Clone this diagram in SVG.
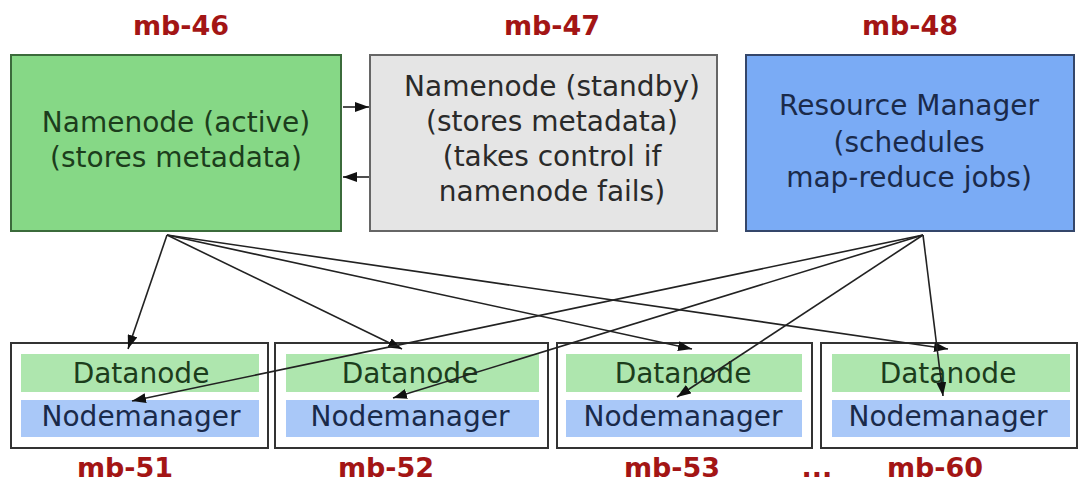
<svg xmlns="http://www.w3.org/2000/svg" width="1080" height="484" viewBox="0 0 1080 484">
<style>
text{font-family:"DejaVu Sans","Liberation Sans",sans-serif;text-anchor:middle}
.lbl{font-weight:bold;font-size:27px;fill:#a31515}
.big{font-size:28px}
.sm{font-size:28px}
.edge{stroke:#222;stroke-width:1.6;fill:none;marker-end:url(#ah)}
.host{fill:#fff;stroke:#333;stroke-width:2}
.dn{fill:#aee6ae}
.nm{fill:#a9c8f8}
</style>
<defs>
<marker id="ah" viewBox="0 0 14 10" refX="14" refY="5" markerWidth="14" markerHeight="10" markerUnits="userSpaceOnUse" orient="auto">
<path d="M0,0 L14,5 L0,10 z" fill="#111"/>
</marker>
</defs>
<rect width="1080" height="484" fill="#fff"/>
<g id="mb46">
<text class="lbl" x="181" y="35">mb-46</text>
<rect x="11" y="55" width="330" height="176" fill="#86d886" stroke="#3b6b3b" stroke-width="2"/>
<text class="big" x="176" y="132" fill="#1c3d1c">Namenode (active)</text>
<text class="big" x="176" y="167" fill="#1c3d1c">(stores metadata)</text>
</g>
<g id="mb47">
<text class="lbl" x="552" y="35">mb-47</text>
<rect x="370" y="55" width="347" height="176" fill="#e5e5e5" stroke="#666" stroke-width="2"/>
<text class="big" x="552" y="96" fill="#2a2a2a">Namenode (standby)</text>
<text class="big" x="552" y="131" fill="#2a2a2a">(stores metadata)</text>
<text class="big" x="552" y="166" fill="#2a2a2a">(takes control if</text>
<text class="big" x="552" y="201" fill="#2a2a2a">namenode fails)</text>
</g>
<g id="mb48">
<text class="lbl" x="910" y="35">mb-48</text>
<rect x="746" y="55" width="328" height="176" fill="#7aabf5" stroke="#34466a" stroke-width="2"/>
<text class="big" x="909" y="115" fill="#1a2a4a">Resource Manager</text>
<text class="big" x="909" y="152" fill="#1a2a4a">(schedules</text>
<text class="big" x="909" y="187" fill="#1a2a4a">map-reduce jobs)</text>
</g>
<g id="mb51">
<rect class="host" x="11" y="343" width="257" height="105"/>
<rect class="dn" x="21" y="354" width="238" height="38"/>
<rect class="nm" x="21" y="400" width="238" height="37"/>
<text class="sm" x="141" y="383" fill="#1c3d1c">Datanode</text>
<text class="sm" x="141" y="426" fill="#1a2a4a">Nodemanager</text>
<text class="lbl" x="125" y="477">mb-51</text>
</g>
<g id="mb52">
<rect class="host" x="275" y="343" width="273" height="105"/>
<rect class="dn" x="286" y="354" width="253" height="38"/>
<rect class="nm" x="286" y="400" width="253" height="37"/>
<text class="sm" x="410" y="383" fill="#1c3d1c">Datanode</text>
<text class="sm" x="410" y="426" fill="#1a2a4a">Nodemanager</text>
<text class="lbl" x="386" y="477">mb-52</text>
</g>
<g id="mb53">
<rect class="host" x="557" y="343" width="255" height="105"/>
<rect class="dn" x="566" y="354" width="236" height="38"/>
<rect class="nm" x="566" y="400" width="236" height="37"/>
<text class="sm" x="683" y="383" fill="#1c3d1c">Datanode</text>
<text class="sm" x="683" y="426" fill="#1a2a4a">Nodemanager</text>
<text class="lbl" x="672" y="477">mb-53</text>
</g>
<g id="ellipsis">
<text class="lbl" x="817" y="477">...</text>
</g>
<g id="mb60">
<rect class="host" x="821" y="343" width="256" height="105"/>
<rect class="dn" x="832" y="354" width="238" height="38"/>
<rect class="nm" x="832" y="400" width="238" height="37"/>
<text class="sm" x="948" y="383" fill="#1c3d1c">Datanode</text>
<text class="sm" x="948" y="426" fill="#1a2a4a">Nodemanager</text>
<text class="lbl" x="935" y="477">mb-60</text>
</g>
<g id="connectors">
<line class="edge" x1="343" y1="107" x2="369" y2="107"/>
<line class="edge" x1="369" y1="177" x2="343" y2="177"/>
<line class="edge" x1="167" y1="235" x2="128" y2="349"/>
<line class="edge" x1="167" y1="235" x2="402" y2="349"/>
<line class="edge" x1="167" y1="235" x2="692" y2="349"/>
<line class="edge" x1="167" y1="235" x2="948" y2="349"/>
<line class="edge" x1="923" y1="235" x2="132" y2="401"/>
<line class="edge" x1="923" y1="235" x2="393" y2="398"/>
<line class="edge" x1="923" y1="235" x2="677" y2="397"/>
<line class="edge" x1="923" y1="235" x2="943" y2="396"/>
</g>
</svg>
